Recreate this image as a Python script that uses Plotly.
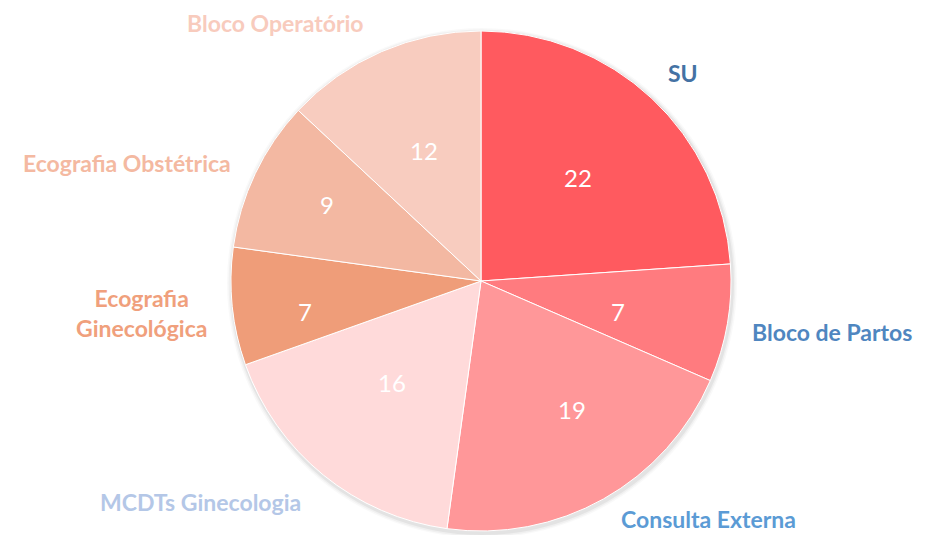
import math
import plotly.graph_objects as go

categories = ["SU", "Bloco de Partos", "Consulta Externa", "MCDTs Ginecologia",
              "Ecografia Ginecológica", "Ecografia Obstétrica", "Bloco Operatório"]
values = [22, 7, 19, 16, 7, 9, 12]
label_text = ["SU", "Bloco de Partos", "Consulta Externa", "MCDTs Ginecologia",
              "Ecografia<br>Ginecológica", "Ecografia Obstétrica", "Bloco Operatório"]

slice_colors = ["#FF5A5F", "#FF7B7F", "#FF9799", "#FFDADA", "#EF9D79", "#F3B8A2", "#F8CCBF"]
label_colors = ["#4472A4", "#4F86C0", "#5B9BD5", "#B4C7E7", "#F0A07C", "#F4B9A1", "#F8CBBD"]
# value text placement: radius fraction and angular nudge (deg)
value_radius = [0.566, 0.56, 0.63, 0.54, 0.715, 0.69, 0.57]
value_dang = [0, 3, -6, 2, -4, 1, 0]
# outside label nudges (px)
label_dx = [-3, -2, 3, -4, 2, 0, -5]
label_dy = [-7, 4, -2, 8, 4, 0, -6]

VW, VH = 925, 543          # browser viewport
OFF = 8                    # default body margin of the page
W, H = VW - 2 * OFF, VH - 2 * OFF
cx_s, cy_s, R_px = 481, 281, 250   # pie centre / radius on screen


def px(xs):
    return (xs - OFF) / W


def py(ys):
    return 1 - (ys - OFF) / H


fig = go.Figure(go.Pie(
    labels=categories, values=values, sort=False, direction="clockwise", rotation=0,
    marker=dict(colors=slice_colors, line=dict(color="white", width=1)),
    textinfo="none",
    domain=dict(x=[px(cx_s - R_px), px(cx_s + R_px)],
                y=[py(cy_s + R_px), py(cy_s - R_px)]),
    showlegend=False, hoverinfo="label+value",
))

# soft shadow behind the pie
for extra, alpha in [(5, 0.025), (3.5, 0.035), (2, 0.05)]:
    r = R_px + extra
    fig.add_shape(type="circle", xref="paper", yref="paper", layer="below",
                  x0=px(cx_s + 1 - r), x1=px(cx_s + 1 + r),
                  y0=py(cy_s + 2 + r), y1=py(cy_s + 2 - r),
                  fillcolor=f"rgba(0,0,0,{alpha})", line=dict(width=0))

total = sum(values)
cum = 0
for i, (lab, v, col) in enumerate(zip(label_text, values, label_colors)):
    mid = (cum + v / 2) / total * 2 * math.pi
    cum += v
    a = mid + math.radians(value_dang[i])
    xv = cx_s + R_px * value_radius[i] * math.sin(a)
    yv = cy_s - R_px * value_radius[i] * math.cos(a)
    fig.add_annotation(x=px(xv), y=py(yv), xref="paper", yref="paper",
                       text=str(v), showarrow=False, xanchor="center", yanchor="middle",
                       font=dict(family="Lato, sans-serif", size=24, color="white"))
    r = R_px * 1.1
    xs = cx_s + r * math.sin(mid) + label_dx[i]
    ys = cy_s - r * math.cos(mid) + label_dy[i]
    fig.add_annotation(
        x=px(xs), y=py(ys), xref="paper", yref="paper",
        text="<b>" + lab + "</b>", showarrow=False,
        xanchor="left" if math.sin(mid) > 0 else "right", yanchor="middle",
        align="center",
        font=dict(family="Lato, sans-serif", size=23, color=col),
    )

fig.update_layout(width=W, height=H, margin=dict(l=0, r=0, t=0, b=0),
                  paper_bgcolor="white", plot_bgcolor="white")
fig.write_html("out.html")
